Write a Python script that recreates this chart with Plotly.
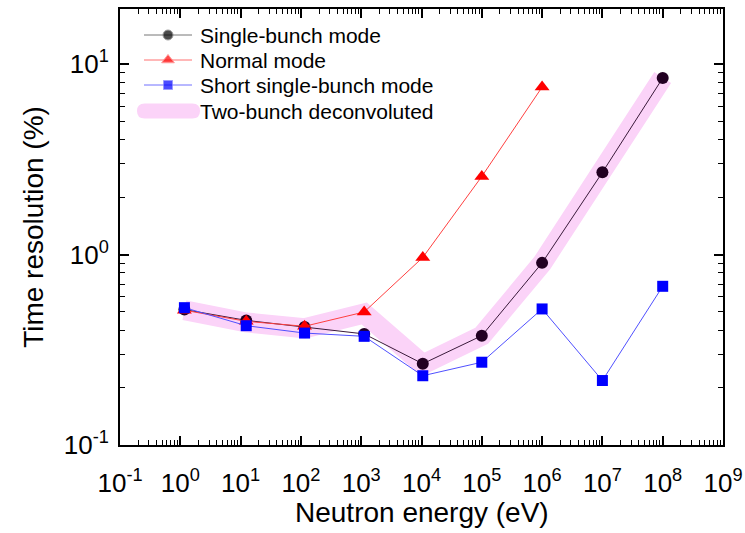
import plotly.graph_objects as go

# Neutron energy (eV) for each measured point
energy_sb = [1.17, 12.4, 115, 1120, 10500, 1.0e5, 1.0e6, 1.0e7, 1.0e8]
energy_normal = [1.17, 12.4, 115, 1120, 10500, 1.0e5, 1.0e6]
energy_short = [1.17, 12.4, 115, 1120, 10500, 1.0e5, 1.0e6, 1.0e7, 1.0e8]
energy_two = [1.17, 12.4, 115, 1120, 10500, 1.0e5, 1.0e6, 1.0e7, 1.0e8]

# Time resolution (%)
single_bunch = [0.514, 0.451, 0.416, 0.383, 0.267, 0.375, 0.904, 2.70, 8.44]
normal_mode = [0.51, 0.446, 0.42, 0.499, 0.965, 2.57, 7.57]
short_single = [0.526, 0.423, 0.387, 0.372, 0.231, 0.272, 0.518, 0.218, 0.681]
two_bunch = [0.51, 0.44, 0.41, 0.49, 0.265, 0.375, 0.90, 2.70, 8.5]

series_names = ["Single-bunch mode", "Normal mode", "Short single-bunch mode", "Two-bunch deconvoluted"]
x_title = "Neutron energy (eV)"
y_title = "Time resolution (%)"

x_tickvals = [10.0 ** k for k in range(-1, 10)]
x_ticktext = ["10<sup>%d</sup>" % k for k in range(-1, 10)]
y_tickvals = [0.1, 1, 10]
y_ticktext = ["10<sup>-1</sup>", "10<sup>0</sup>", "10<sup>1</sup>"]

x_minor = [m * 10.0 ** k for k in range(-1, 9) for m in range(2, 10)]
y_minor = [m * 10.0 ** k for k in range(-1, 2) for m in range(2, 10)]

FONT = "Liberation Sans, Arial"
BAND = "#fbd3f8"
styles = [
    dict(line=dict(color="#3a1a3a", width=1), marker=dict(symbol="circle", size=12, color="#220022")),
    dict(line=dict(color="#ff4040", width=1), marker=dict(symbol="triangle-up", size=13, color="#ff0000")),
    dict(line=dict(color="#5050ff", width=1), marker=dict(symbol="square", size=11, color="#0000ff")),
]
legend_styles = [
    dict(line=dict(color="#777777", width=1), marker=dict(symbol="circle", color="#000000")),
    dict(line=dict(color="#ff7070", width=1), marker=dict(symbol="triangle-up", color="#ff0000")),
    dict(line=dict(color="#7070ff", width=1), marker=dict(symbol="square", color="#0000ff")),
]
legend_marker_sizes = [10, 11, 9]

fig = go.Figure()

fig.add_trace(go.Scatter(x=energy_two, y=two_bunch, mode="lines", name=series_names[3],
                         line=dict(color=BAND, width=20), showlegend=False))
fig.add_trace(go.Scatter(x=energy_sb, y=single_bunch, mode="lines+markers", name=series_names[0],
                         showlegend=False, **styles[0]))
fig.add_trace(go.Scatter(x=energy_normal, y=normal_mode, mode="lines+markers", name=series_names[1],
                         showlegend=False, **styles[1]))
fig.add_trace(go.Scatter(x=energy_short, y=short_single, mode="lines+markers", name=series_names[2],
                         showlegend=False, **styles[2]))

# ---- hand-built legend (in a 0..1 overlay axis over the plot area) ----
PLOT_L, PLOT_R, PLOT_T, PLOT_B = 120, 723, 9, 445
def px_x(px):
    return (px - PLOT_L) / (PLOT_R - PLOT_L)
def px_y(py):
    return (PLOT_B - py) / (PLOT_B - PLOT_T)

rows_py = [35, 60, 85, 111]
for i in range(3):
    fig.add_trace(go.Scatter(x=[px_x(144), px_x(168), px_x(192)], y=[px_y(rows_py[i])] * 3,
                             xaxis="x2", yaxis="y2", mode="lines+markers",
                             line=legend_styles[i]["line"],
                             marker=dict(legend_styles[i]["marker"], size=[0, legend_marker_sizes[i], 0]),
                             hoverinfo="skip", showlegend=False))

# rounded pink bar for the band entry
bx0, bx1 = px_x(137), px_x(200)
by0, by1 = px_y(rows_py[3] + 7.5), px_y(rows_py[3] - 7.5)
bym = px_y(rows_py[3])
rx = px_x(137 + 7.5) - px_x(137)
band_path = (
    f"M {bx0 + rx},{by0} L {bx1 - rx},{by0} Q {bx1},{by0} {bx1},{bym} Q {bx1},{by1} {bx1 - rx},{by1} "
    f"L {bx0 + rx},{by1} Q {bx0},{by1} {bx0},{bym} Q {bx0},{by0} {bx0 + rx},{by0} Z"
)
fig.add_shape(type="path", path=band_path, xref="x2", yref="y2",
              fillcolor=BAND, line=dict(width=0), layer="above")

for i, name in enumerate(series_names):
    fig.add_annotation(x=px_x(198), y=px_y(rows_py[i]), xref="x2", yref="y2", text=name,
                       showarrow=False, xanchor="left", yanchor="middle",
                       font=dict(family=FONT, size=21, color="black"))

# x-axis title placed as an annotation below the tick labels
fig.add_annotation(x=0.5, y=px_y(512), xref="paper", yref="paper", text=x_title,
                   showarrow=False, xanchor="center", yanchor="middle",
                   font=dict(family=FONT, size=28, color="black"))

axis_common = dict(
    showline=True, linecolor="black", linewidth=2, mirror="ticks",
    ticks="inside", ticklen=9, tickwidth=1.5, tickcolor="black",
    showgrid=False, zeroline=False, automargin=False,
    tickfont=dict(family=FONT, size=26, color="black"),
)

fig.update_layout(
    xaxis=dict(
        type="log", range=[-1, 9], tickvals=x_tickvals, ticktext=x_ticktext,
        ticklabelstandoff=14,
        minor=dict(tickvals=x_minor, ticks="inside", ticklen=5, tickwidth=1, tickcolor="black", showgrid=False),
        **axis_common,
    ),
    yaxis=dict(
        type="log", range=[-1, 1.289], tickvals=y_tickvals, ticktext=y_ticktext,
        ticklabelstandoff=4,
        minor=dict(tickvals=y_minor, ticks="inside", ticklen=5, tickwidth=1, tickcolor="black", showgrid=False),
        title=dict(text=y_title, font=dict(family=FONT, size=28, color="black"), standoff=12),
        **axis_common,
    ),
    xaxis2=dict(overlaying="x", range=[0, 1], visible=False, fixedrange=True),
    yaxis2=dict(overlaying="y", range=[0, 1], visible=False, fixedrange=True),
    width=745, height=533,
    margin=dict(l=PLOT_L, r=745 - PLOT_R, t=PLOT_T, b=533 - PLOT_B),
    paper_bgcolor="white", plot_bgcolor="white",
    showlegend=False,
)

fig.write_html("out.html")
